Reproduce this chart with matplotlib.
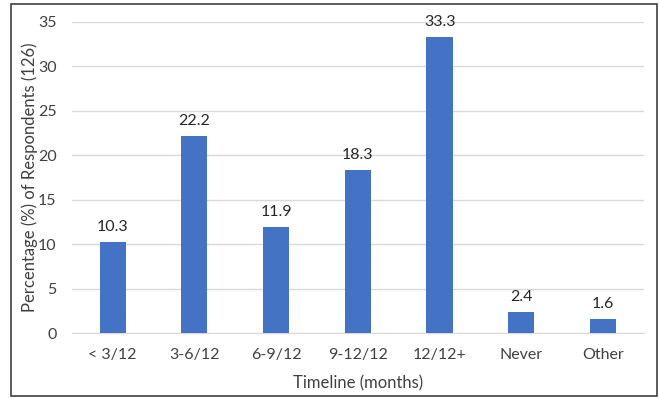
import matplotlib
matplotlib.use("Agg")
import matplotlib.pyplot as plt
from matplotlib.patches import Rectangle

categories = ["< 3/12", "3-6/12", "6-9/12", "9-12/12", "12/12+", "Never", "Other"]
values = [10.3, 22.2, 11.9, 18.3, 33.3, 2.4, 1.6]
yticks = [0, 5, 10, 15, 20, 25, 30, 35]

plt.rcParams['font.family'] = ['Lato', 'DejaVu Sans']

fig = plt.figure(figsize=(6.59, 3.99), dpi=100)
ax = fig.add_axes([0.109, 0.165, 0.868, 0.78])

x = list(range(len(categories)))
bars = ax.bar(x, values, width=0.32, color="#4472C4", zorder=3)
for xi, v in zip(x, values):
    ax.text(xi, v + 0.9, f"{v:.1f}", ha="center", va="bottom", fontsize=11.5, color="#262626")

ax.set_xlim(-0.5, len(categories) - 0.5)
ax.set_ylim(0, 35)
ax.set_yticks(yticks)
ax.set_xticks(x)
ax.set_xticklabels(categories)
ax.yaxis.grid(True, color="#D9D9D9", linewidth=1, zorder=0)
for s in ["top", "right", "left"]:
    ax.spines[s].set_visible(False)
ax.spines["bottom"].set_color("#D9D9D9")
ax.tick_params(axis="both", length=0, labelsize=11.5, labelcolor="#404040")
ax.tick_params(axis="x", pad=11)
ax.tick_params(axis="y", pad=11)
ax.set_xlabel("Timeline (months)", fontsize=12, color="#404040", labelpad=9)
ax.set_ylabel("Percentage (%) of Respondents (126)", fontsize=12, color="#404040")
ax.yaxis.set_label_coords(-0.06, 0.5)

fig.patches.append(Rectangle((0.0167, 0.0075), 0.98, 0.982, transform=fig.transFigure,
                             fill=False, edgecolor="#404040", linewidth=1.2))

fig.savefig("out.png", dpi=100)
